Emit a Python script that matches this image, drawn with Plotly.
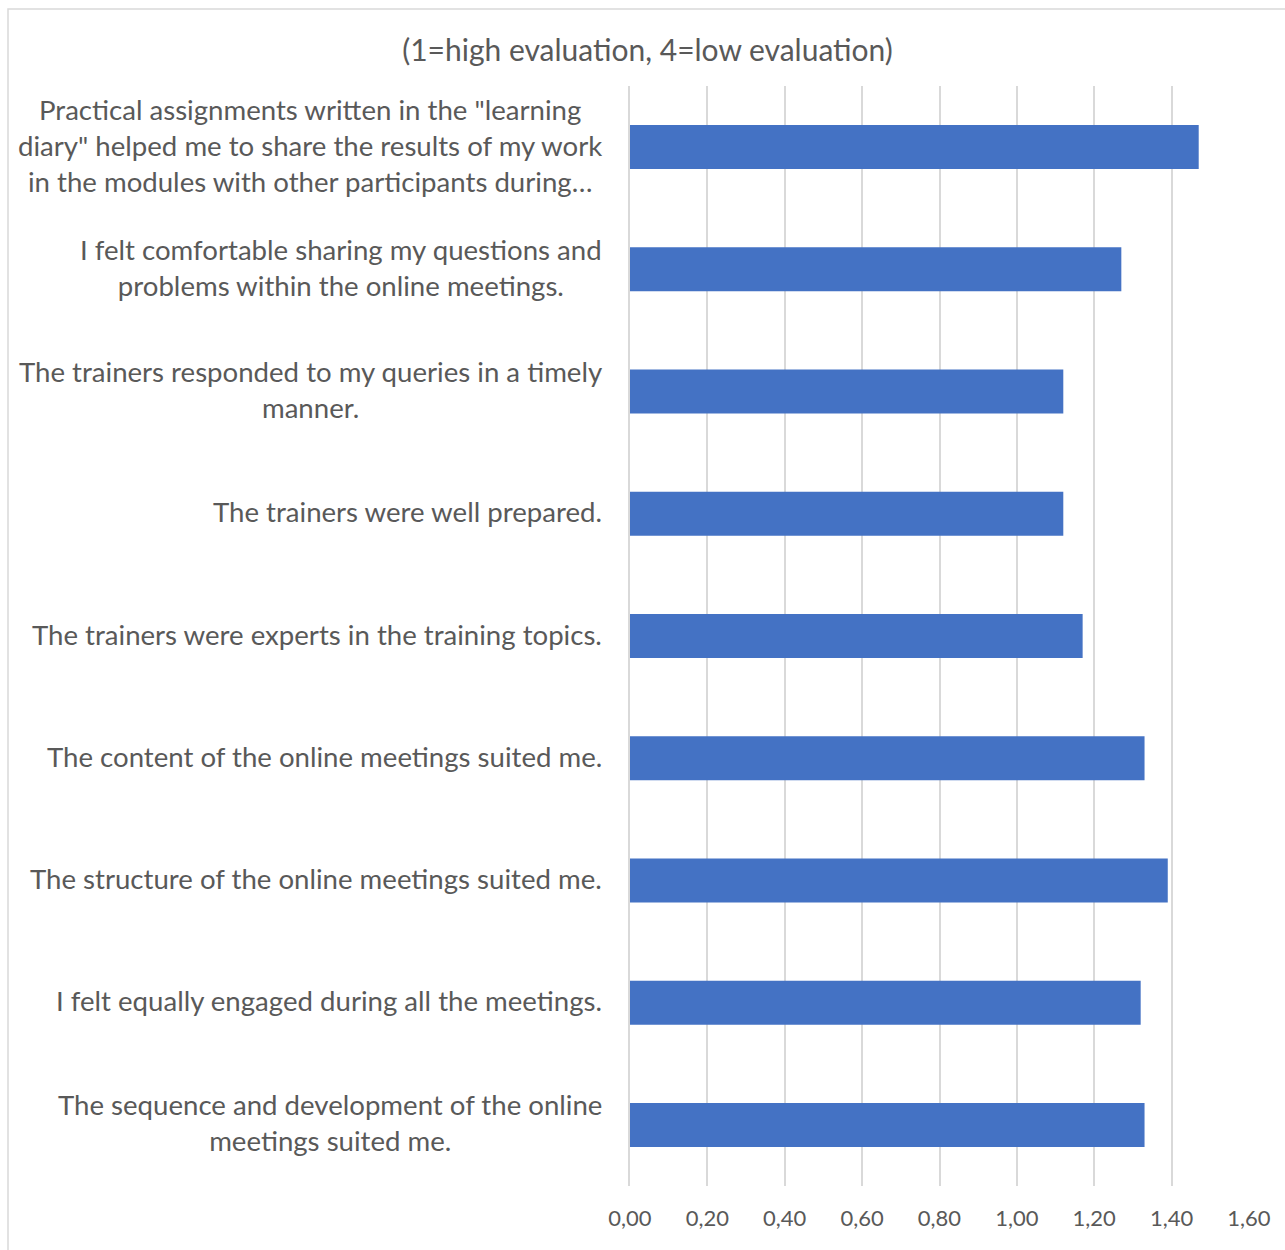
import plotly.graph_objects as go

categories = [
    'Practical assignments written in the "learning<br>diary" helped me to share the results of my work<br>in the modules with other participants during…',
    'I felt comfortable sharing my questions and<br>problems within the online meetings.',
    'The trainers responded to my queries in a timely<br>manner.',
    'The trainers were well prepared.',
    'The trainers were experts in the training topics.',
    'The content of the online meetings suited me.',
    'The structure of the online meetings suited me.',
    'I felt equally engaged during all the meetings.',
    'The sequence and development of the online<br>meetings suited me.',
]
values = [1.47, 1.27, 1.12, 1.12, 1.17, 1.33, 1.39, 1.32, 1.33]
tick_vals = [0, 0.2, 0.4, 0.6, 0.8, 1.0, 1.2, 1.4, 1.6]
tick_text = ["0,00", "0,20", "0,40", "0,60", "0,80", "1,00", "1,20", "1,40", "1,60"]
title_text = "(1=high evaluation, 4=low evaluation)"

FONT = "Lato"
GRAY = "#595959"
GRID = "#d9d9d9"

W, H = 1285, 1250
L, R, T, B = 630, 36, 86, 64
pw = W - L - R
ph = H - T - B

fig = go.Figure()
fig.add_trace(go.Bar(
    x=values, y=categories, orientation="h",
    marker=dict(color="#4472C4", line=dict(width=0)),
    hoverinfo="x+y",
))

annotations = []
for c in categories:
    annotations.append(dict(
        x=0, xref="paper", y=c, yref="y",
        text=c, showarrow=False, xanchor="right", yanchor="middle",
        align="center", xshift=-26, yshift=2,
        font=dict(family=FONT, size=27.6, color=GRAY),
    ))

px2x = lambda p: (p - L) / pw
px2y = lambda p: (H - B - p) / ph

fig.update_layout(
    width=W, height=H,
    margin=dict(l=L, r=R, t=T, b=B, pad=0),
    paper_bgcolor="white", plot_bgcolor="white",
    showlegend=False,
    bargap=0.64,
    title=dict(text=title_text, x=647.5 / W, xref="container", xanchor="center",
               y=1 - 50 / H, yref="container", yanchor="middle",
               font=dict(family=FONT, size=30, color=GRAY)),
    xaxis=dict(range=[0, 1.6], tickvals=tick_vals, ticktext=tick_text,
               showgrid=True, gridcolor=GRID, gridwidth=1.5,
               zeroline=False, showline=False, ticks="",
               tickfont=dict(family=FONT, size=22, color=GRAY),
               ticklabelstandoff=17, fixedrange=True),
    yaxis=dict(autorange="reversed", showticklabels=False, showgrid=False,
               zeroline=False, showline=True, linecolor=GRID, linewidth=1.5,
               ticks="", fixedrange=True),
    annotations=annotations,
    shapes=[dict(type="rect", xref="paper", yref="paper",
                 x0=px2x(8), x1=px2x(1300), y0=px2y(1300), y1=px2y(9),
                 line=dict(color=GRID, width=1.5), fillcolor="rgba(0,0,0,0)",
                 layer="below")],
)

fig.write_html("out.html")
